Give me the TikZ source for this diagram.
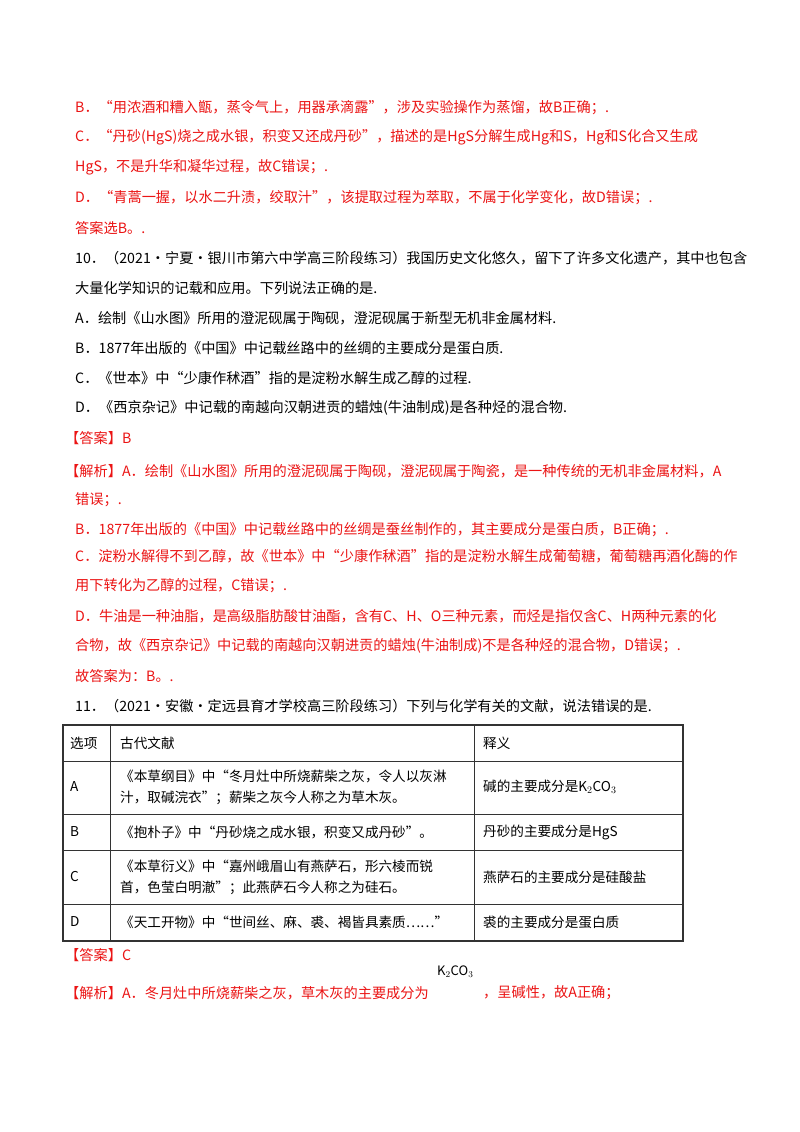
\documentclass[tikz,border=0pt]{standalone}
\usepackage{fontspec}
\setmainfont{Noto Sans CJK SC}
\definecolor{rd}{RGB}{235,20,20}
\begin{document}
\begin{tikzpicture}[x=1pt,y=-1pt,
 ln/.style={anchor=west,inner sep=0,font=\fontsize{14.2}{16}\selectfont},
 rl/.style={ln,text=rd},
 cell/.style={anchor=west,inner sep=0,font=\fontsize{13.6}{21}\selectfont,align=left}]
\useasboundingbox (0,0) rectangle (800,1132);
\fill[white] (0,0) rectangle (800,1132);
\node[rl] (l1) at (75,108) {B．“用浓酒和糟入甑，蒸令气上，用器承滴露”，涉及实验操作为蒸馏，故B正确；.};
\node[rl] (l2) at (75,137) {C．“丹砂(HgS)烧之成水银，积变又还成丹砂”，描述的是HgS分解生成Hg和S，Hg和S化合又生成};
\node[rl] (l3) at (75,167) {HgS，不是升华和凝华过程，故C错误；.};
\node[rl] (l4) at (75,198) {D．“青蒿一握，以水二升渍，绞取汁”，该提取过程为萃取，不属于化学变化，故D错误；.};
\node[rl] (l5) at (75,228) {答案选B。.};
\node[ln] (q1) at (75,258) {10．（2021·宁夏·银川市第六中学高三阶段练习）我国历史文化悠久，留下了许多文化遗产，其中也包含};
\node[ln] (q2) at (75,288) {大量化学知识的记载和应用。下列说法正确的是.};
\node[ln] (q3) at (75,318) {A．绘制《山水图》所用的澄泥砚属于陶砚，澄泥砚属于新型无机非金属材料.};
\node[ln] (q4) at (75,348) {B．1877年出版的《中国》中记载丝路中的丝绸的主要成分是蛋白质.};
\node[ln] (q5) at (75,378) {C．《世本》中“少康作秫酒”指的是淀粉水解生成乙醇的过程.};
\node[ln] (q6) at (75,408) {D．《西京杂记》中记载的南越向汉朝进贡的蜡烛(牛油制成)是各种烃的混合物.};
\node[rl] (a1) at (65,438) {【答案】B};
\node[rl] (a2) at (65,471) {【解析】A．绘制《山水图》所用的澄泥砚属于陶砚，澄泥砚属于陶瓷，是一种传统的无机非金属材料，A};
\node[rl] (a3) at (75,500) {错误；.};
\node[rl] (a4) at (75,530) {B．1877年出版的《中国》中记载丝路中的丝绸是蚕丝制作的，其主要成分是蛋白质，B正确；.};
\node[rl] (a5) at (75,556) {C．淀粉水解得不到乙醇，故《世本》中“少康作秫酒”指的是淀粉水解生成葡萄糖，葡萄糖再酒化酶的作};
\node[rl] (a6) at (75,586) {用下转化为乙醇的过程，C错误；.};
\node[rl] (a7) at (75,616) {D．牛油是一种油脂，是高级脂肪酸甘油酯，含有C、H、O三种元素，而烃是指仅含C、H两种元素的化};
\node[rl] (a8) at (75,646) {合物，故《西京杂记》中记载的南越向汉朝进贡的蜡烛(牛油制成)不是各种烃的混合物，D错误；.};
\node[rl] (a9) at (75,676) {故答案为：B。.};
\node[ln] (q11) at (75,706) {11．（2021·安徽·定远县育才学校高三阶段练习）下列与化学有关的文献，说法错误的是.};
% table
\draw[line width=1.2pt,black!80] (63,725) rectangle (683,941);
\foreach \y in {761,814,850,904} \draw[line width=0.9pt,black!80] (63,\y) -- (683,\y);
\foreach \x in {110,474} \draw[line width=0.9pt,black!80] (\x,725) -- (\x,941);
\node[cell] (h1) at (70,743) {选项};
\node[cell] (h2) at (120,743) {古代文献};
\node[cell] (h3) at (483,743) {释义};
\node[cell] (ra) at (70,787) {A};
\node[cell] (ra2) at (120,787) {《本草纲目》中“冬月灶中所烧薪柴之灰，令人以灰淋\\汁，取碱浣衣”；薪柴之灰今人称之为草木灰。};
\node[cell] (ra3) at (483,787) {碱的主要成分是K$_2$CO$_3$};
\node[cell] (rb) at (70,832) {B};
\node[cell] (rb2) at (120,832) {《抱朴子》中“丹砂烧之成水银，积变又成丹砂”。};
\node[cell] (rb3) at (483,832) {丹砂的主要成分是HgS};
\node[cell] (rc) at (70,877) {C};
\node[cell] (rc2) at (120,877) {《本草衍义》中“嘉州峨眉山有燕萨石，形六棱而锐\\首，色莹白明澈”；此燕萨石今人称之为硅石。};
\node[cell] (rc3) at (483,877) {燕萨石的主要成分是硅酸盐};
\node[cell] (rd) at (70,922) {D};
\node[cell] (rd2) at (120,922) {《天工开物》中“世间丝、麻、裘、褐皆具素质……”};
\node[cell] (rd3) at (483,922) {裘的主要成分是蛋白质};
\node[rl] (b1) at (65,955) {【答案】C};
\node[rl] (b2) at (65,993) {【解析】A．冬月灶中所烧薪柴之灰，草木灰的主要成分为};
\node[ln,font=\fontsize{13}{14}\selectfont] (b3) at (437,972) {K$_2$CO$_3$};
\node[rl] (b4) at (483,993) {，呈碱性，故A正确；};
\end{tikzpicture}
\end{document}
